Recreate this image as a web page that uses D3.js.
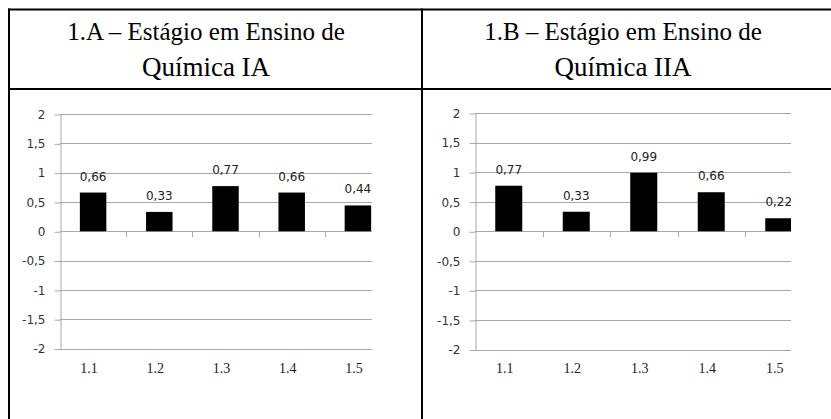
<!DOCTYPE html>
<html>
<head>
<meta charset="utf-8">
<script src="https://cdn.jsdelivr.net/npm/d3@7/dist/d3.min.js"></script>
<style>
  html, body { margin: 0; padding: 0; background: #fff; }
  svg { display: block; }
  .serif { font-family: "Liberation Serif", "Times New Roman", Times, "DejaVu Serif", serif; }
  .sans { font-family: "DejaVu Sans", Verdana, sans-serif; }
</style>
</head>
<body>
<svg id="chart" width="831" height="419"></svg>
<script>
// ---- data ----
const categories = ["1.1", "1.2", "1.3", "1.4", "1.5"];
const valuesA = [0.66, 0.33, 0.77, 0.66, 0.44];
const valuesB = [0.77, 0.33, 0.99, 0.66, 0.22];
const yTickValues = [-2, -1.5, -1, -0.5, 0, 0.5, 1, 1.5, 2];
const titleA = ["1.A – Estágio em Ensino de", "Química IA"];
const titleB = ["1.B – Estágio em Ensino de", "Química IIA"];

// ---- formatting (Portuguese decimal comma) ----
const locale = d3.formatLocale({ decimal: ",", thousands: ".", grouping: [3], currency: ["", ""], minus: "-" });
const tickFmt = locale.format("");
const labelFmt = locale.format(".2f");

const svg = d3.select("#chart");

// ---- table frame ----
const frame = svg.append("g").attr("stroke", "#000").attr("stroke-width", 2);
frame.append("line").attr("x1", 8).attr("x2", 831).attr("y1", 9.5).attr("y2", 9.5);
frame.append("line").attr("x1", 8).attr("x2", 831).attr("y1", 89).attr("y2", 89);
frame.append("line").attr("x1", 9).attr("x2", 9).attr("y1", 8.5).attr("y2", 419);
frame.append("line").attr("x1", 422).attr("x2", 422).attr("y1", 8.5).attr("y2", 419);

// ---- panels ----
const panels = [
  { id: "a", title: titleA, values: valuesA, cx: 206, x0: 60, step: 66.2, clipRight: 372, yTop: 114, yBottom: 348.5 },
  { id: "b", title: titleB, values: valuesB, cx: 623, x0: 475, step: 67.5, clipRight: 791, yTop: 113, yBottom: 349.5 }
];
const titleSizes = [25, 27];

panels.forEach(p => {
  // title
  const t = svg.append("g").attr("class", "serif")
    .attr("fill", "#000").attr("text-anchor", "middle");
  p.title.forEach((line, i) => {
    t.append("text").attr("x", p.cx).attr("y", 40 + i * 36)
      .attr("font-size", titleSizes[i]).text(line);
  });

  const x = d3.scaleBand()
    .domain(categories)
    .range([p.x0, p.x0 + p.step * categories.length])
    .paddingInner(0.6)
    .paddingOuter(0.3);
  const y = d3.scaleLinear().domain([-2, 2]).range([p.yBottom, p.yTop]);

  svg.append("clipPath").attr("id", "clip-" + p.id)
    .append("rect").attr("x", 0).attr("y", 0).attr("width", p.clipRight).attr("height", 419);

  const g = svg.append("g");
  const clipped = g.append("g").attr("clip-path", "url(#clip-" + p.id + ")");

  // gridlines
  clipped.append("g").selectAll("line").data(yTickValues).join("line")
    .attr("x1", p.x0).attr("x2", p.x0 + p.step * categories.length)
    .attr("y1", d => Math.round(y(d)) + 0.5).attr("y2", d => Math.round(y(d)) + 0.5)
    .attr("stroke", "#a8a8a8").attr("stroke-width", 1);

  // y axis
  const yAxis = d3.axisLeft(y).tickValues(yTickValues).tickFormat(tickFmt).tickSize(6).tickSizeOuter(0).tickPadding(9);
  const ya = g.append("g").attr("transform", `translate(${p.x0 + 0.5},0.5)`).call(yAxis);
  ya.attr("font-family", null).attr("font-size", null);
  ya.select(".domain").attr("stroke", "#a8a8a8");
  ya.selectAll(".tick line").attr("stroke", "#a8a8a8");
  ya.selectAll(".tick text").attr("class", "sans")
    .attr("font-size", 12).attr("fill", "#333");

  // x tick marks at category boundaries
  const boundaries = categories.slice(1).map(c => x(c) - x.step() * x.paddingInner() / 2);
  clipped.append("g").selectAll("line").data(boundaries).join("line")
    .attr("x1", d => Math.round(d) + 0.5).attr("x2", d => Math.round(d) + 0.5)
    .attr("y1", Math.round(y(0))).attr("y2", Math.round(y(0)) + 6)
    .attr("stroke", "#a8a8a8");

  // bars
  clipped.append("g").selectAll("rect").data(p.values).join("rect")
    .attr("x", (d, i) => x(categories[i]))
    .attr("width", x.bandwidth())
    .attr("y", d => y(d))
    .attr("height", d => y(0) - y(d))
    .attr("fill", "#000");

  // data labels
  clipped.append("g").selectAll("text").data(p.values).join("text")
    .attr("class", "sans")
    .attr("x", (d, i) => x(categories[i]) + x.bandwidth() / 2)
    .attr("y", d => y(d) - 12)
    .attr("text-anchor", "middle")
    .attr("font-size", 12).attr("fill", "#222")
    .text(d => labelFmt(d));

  // category labels
  g.append("g").selectAll("text").data(categories).join("text")
    .attr("class", "serif")
    .attr("x", c => x(c) + x.bandwidth() / 2 - 4)
    .attr("y", 373)
    .attr("text-anchor", "middle")
    .attr("font-size", 14).attr("fill", "#222")
    .text(c => c);
});
</script>
</body>
</html>
